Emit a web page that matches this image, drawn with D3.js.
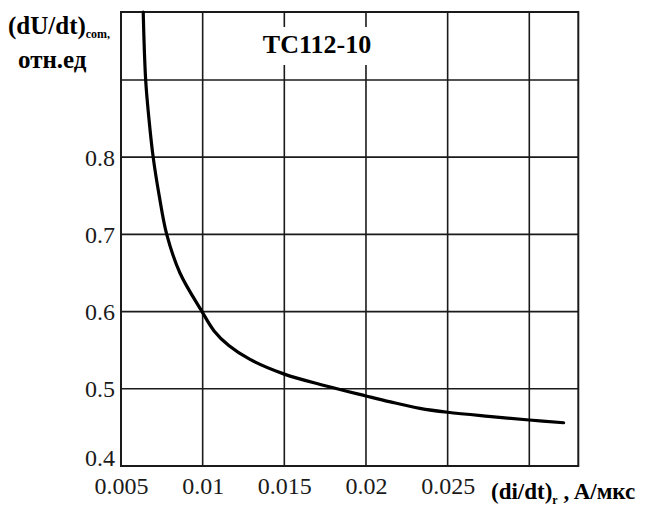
<!DOCTYPE html>
<html><head><meta charset="utf-8">
<script src="https://cdn.jsdelivr.net/npm/d3@7/dist/d3.min.js"></script>
</head><body style="margin:0"><svg id="c" width="651" height="513"></svg>
<script>
const xTicks = [0.005, 0.01, 0.015, 0.02, 0.025, 0.03];
const xTickLabels = ["0.005", "0.01", "0.015", "0.02", "0.025", ""];
const yGrid = [0.4, 0.5, 0.6, 0.7, 0.8, 0.9];
const yTickLabels = ["0.4", "0.5", "0.6", "0.7", "0.8", ""];
const curveX = [0.00636, 0.00651, 0.00671, 0.00697, 0.00734, 0.0078, 0.00861, 0.00996, 0.0107, 0.0116, 0.0129, 0.015, 0.0175, 0.02, 0.0215, 0.0233, 0.025, 0.0275, 0.03, 0.0321];
const curveY = [0.988, 0.9, 0.85, 0.8, 0.75, 0.7, 0.65, 0.6, 0.575, 0.556, 0.538, 0.519, 0.504, 0.4907, 0.483, 0.4747, 0.4696, 0.4643, 0.4596, 0.456];
const chartTitle = "TC112-10";

const svg = d3.select("#c").style("font-family", '"Liberation Serif"');
const x = d3.scaleLinear().domain([0.005, 0.033]).range([121, 578.3]);
const y = d3.scaleLinear().domain([0.4, 0.988]).range([466, 12]);
const ink = "#1a1a1a";

function serifText(sel, size, bold) {
  sel.style("font-family", '"Liberation Serif"').style("font-size", size + "px");
  if (bold) sel.style("font-weight", "bold");
  return sel;
}

// grid
svg.append("g").selectAll("line").data(xTicks).join("line")
  .attr("x1", d => x(d)).attr("x2", d => x(d))
  .attr("y1", y.range()[0]).attr("y2", y.range()[1])
  .attr("stroke", ink).attr("stroke-width", 1.6);
svg.append("g").selectAll("line").data(yGrid).join("line")
  .attr("y1", d => y(d)).attr("y2", d => y(d))
  .attr("x1", x.range()[0]).attr("x2", x.range()[1])
  .attr("stroke", ink).attr("stroke-width", 1.6);
// frame
svg.append("rect")
  .attr("x", x.range()[0]).attr("y", y.range()[1])
  .attr("width", x.range()[1] - x.range()[0]).attr("height", y.range()[0] - y.range()[1])
  .attr("fill", "none").attr("stroke", ink).attr("stroke-width", 2);

// title with white background
svg.append("rect").attr("x", 255).attr("y", 27).attr("width", 125).attr("height", 38).attr("fill", "#fff");
svg.append("text").attr("x", 317).attr("y", 53).attr("text-anchor", "middle")
  .call(serifText, 26, true).text(chartTitle);

// curve
const line = d3.line().x((d, i) => x(curveX[i])).y(d => y(d)).curve(d3.curveCatmullRom.alpha(0.5));
svg.append("path").datum(curveY).attr("d", line)
  .attr("fill", "none").attr("stroke", "#000").attr("stroke-width", 3.2).attr("stroke-linecap", "round");

// axes via d3
const xAxis = d3.axisBottom(x).tickValues(xTicks).tickSize(0).tickPadding(0)
  .tickFormat((d, i) => xTickLabels[i]);
const gx = svg.append("g").attr("transform", `translate(0,${y.range()[0]})`).call(xAxis);
gx.attr("font-family", null).attr("font-size", null);
gx.select(".domain").remove();
gx.selectAll("text").attr("dy", null).attr("y", 28).attr("fill", ink).call(serifText, 24, false);

const yAxis = d3.axisLeft(y).tickValues(yGrid).tickSize(0).tickPadding(0)
  .tickFormat((d, i) => yTickLabels[i]);
const gy = svg.append("g").attr("transform", `translate(${x.range()[0]},0)`).call(yAxis);
gy.attr("font-family", null).attr("font-size", null);
gy.select(".domain").remove();
gy.selectAll("text").attr("x", -6).attr("dy", (d, i) => i === 0 ? "-0.02em" : "0.34em")
  .attr("fill", ink).call(serifText, 24, false);

// y title
const yt = svg.append("text").attr("x", 8).attr("y", 34).call(serifText, 25, true);
yt.append("tspan").text("(dU/dt)");
yt.append("tspan").style("font-size", "12px").attr("dy", 4).text("com,");
svg.append("text").attr("x", 18).attr("y", 68).call(serifText, 25, true).text("отн.ед");

// x title
const xt = svg.append("text").attr("x", 491).attr("y", 499).call(serifText, 23, true);
xt.append("tspan").text("(di/dt)");
xt.append("tspan").style("font-size", "12px").attr("dy", 5).text("r");
xt.append("tspan").attr("dy", -5).text(" , A/мкс");
</script></body></html>
